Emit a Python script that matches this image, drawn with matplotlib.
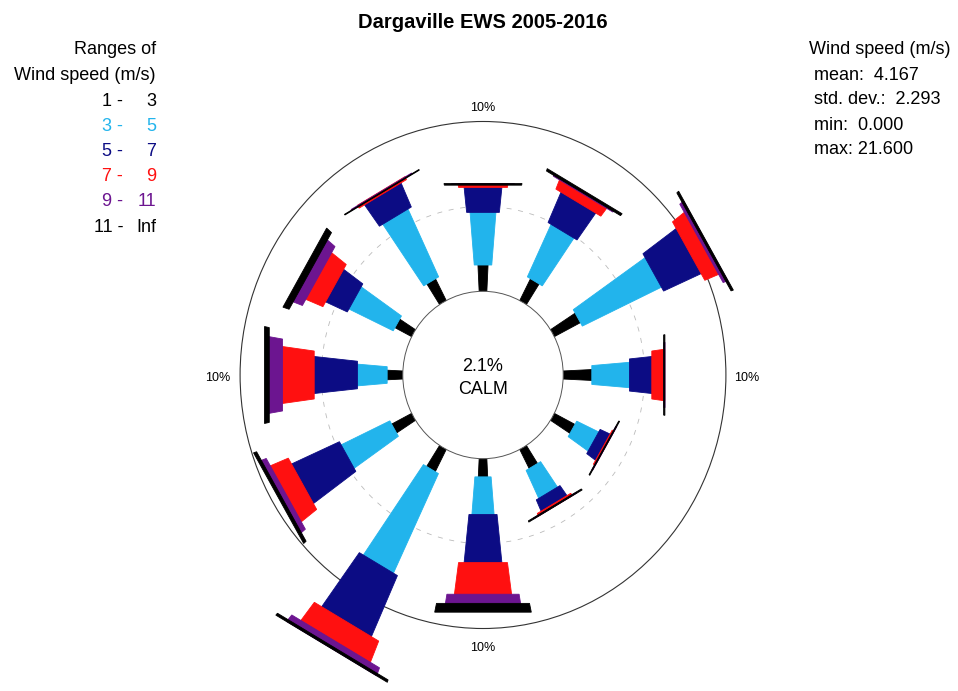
import numpy as np
import matplotlib
matplotlib.use('Agg')
import matplotlib.pyplot as plt
from matplotlib.patches import Polygon, Circle

plt.rcParams['font.family'] = ['Liberation Sans', 'DejaVu Sans']

# wind directions (compass degrees) and frequency (%) of each speed range
directions = [0, 30, 60, 90, 120, 150, 180, 210, 240, 270, 300, 330]
range_labels = [('1 -', '3'), ('3 -', '5'), ('5 -', '7'), ('7 -', '9'), ('9 -', '11'), ('11 -', 'Inf')]
freq_1_3 = [1.57, 1.46, 1.82, 1.78, 1.44, 1.28, 1.09, 1.49, 1.40, 0.98, 1.17, 1.46]
freq_3_5 = [3.13, 3.44, 5.40, 2.34, 1.51, 1.84, 2.24, 6.51, 3.33, 1.85, 3.03, 4.44]
freq_5_7 = [1.52, 2.00, 2.58, 1.42, 0.70, 0.76, 2.89, 4.00, 3.27, 2.71, 1.50, 1.60]
freq_7_9 = [0.23, 0.65, 1.00, 0.80, 0.13, 0.17, 1.95, 1.45, 1.27, 2.03, 1.20, 0.20]
freq_9_11 = [0.05, 0.15, 0.30, 0.08, 0.06, 0.05, 0.65, 0.50, 0.43, 0.93, 0.70, 0.05]
freq_11_inf = [0.10, 0.15, 0.15, 0.08, 0.06, 0.08, 0.53, 0.15, 0.20, 0.30, 0.40, 0.05]
calm = 2.1
stats = [('mean:', '4.167'), ('std. dev.:', '2.293'), ('min:', '0.000'), ('max:', '21.600')]

colors = ['black', '#22b4ec', '#0c0c84', '#ff1010', '#6c1590', 'black']
widths = [5.5, 9.5, 12.0, 15.5, 19.5, 24.0]   # angular width of each range (deg)

W, H = 958, 691
cx, cy = 483, 375          # rose centre in pixels
sx, sy = 16.27, 16.98      # pixels per percent (picture is slightly stretched)
calm_r = 4.93              # radius of the calm circle, in percent units

fig = plt.figure(figsize=(W / 100, H / 100), dpi=100)
ax = fig.add_axes([0, 0, 1, 1])
ax.set_xlim(-cx / sx, (W - cx) / sx)
ax.set_ylim(-(H - cy) / sy, cy / sy)
ax.axis('off')

freqs = np.array([freq_1_3, freq_3_5, freq_5_7, freq_7_9, freq_9_11, freq_11_inf])
cum = np.vstack([np.zeros(len(directions)), np.cumsum(freqs, axis=0)])

# wedges
for i, d in enumerate(directions):
    for j in range(len(freqs)):
        r_in = calm_r + cum[j, i]
        r_out = calm_r + cum[j + 1, i]
        a1 = np.radians(d - widths[j] / 2)
        a2 = np.radians(d + widths[j] / 2)
        pts = [(r_in * np.sin(a1), r_in * np.cos(a1)),
               (r_out * np.sin(a1), r_out * np.cos(a1)),
               (r_out * np.sin(a2), r_out * np.cos(a2)),
               (r_in * np.sin(a2), r_in * np.cos(a2))]
        ax.add_patch(Polygon(pts, closed=True, facecolor=colors[j],
                             edgecolor=colors[j], linewidth=0.6, zorder=3))

# reference circles
ax.add_patch(Circle((0, 0), calm_r + 10, fill=False, edgecolor='#333333', linewidth=0.8, zorder=1))
ax.add_patch(Circle((0, 0), calm_r + 5, fill=False, edgecolor='#bbbbbb', linewidth=0.6,
                    linestyle=(0, (6, 8)), zorder=1))
ax.add_patch(Circle((0, 0), calm_r, facecolor='white', edgecolor='#555555', linewidth=0.7, zorder=4))

R = calm_r + 10
lab = dict(fontsize=9, ha='center', va='center', textcoords='offset points')
ax.annotate('10%', (0, R), xytext=(0, 10), **lab)
ax.annotate('10%', (R, 0), xytext=(15, -2), **lab)
ax.annotate('10%', (0, -R), xytext=(0, -14), **lab)
ax.annotate('10%', (-R, 0), xytext=(-16, -2), **lab)


def ftext(x, y, s, **kw):
    fig.text(x / W, 1 - y / H, s, va='center', **kw)


ftext(cx, 367, f'{calm}%', fontsize=13, ha='center', zorder=5)
ftext(cx, 390, 'CALM', fontsize=13, ha='center', zorder=5)

ftext(cx, 22, 'Dargaville EWS 2005-2016', fontsize=14.5, fontweight='bold', ha='center')

# legend of speed ranges
ftext(156, 50, 'Ranges of', fontsize=13, ha='right')
ftext(156, 75, 'Wind speed (m/s)', fontsize=13, ha='right')
for k, (lo, hi) in enumerate(range_labels):
    y = 101 + k * 25.2
    ftext(123, y, lo, fontsize=13, ha='right', color=colors[k])
    ftext(156, y, hi, fontsize=13, ha='right', color=colors[k])

# statistics
ftext(809, 50, 'Wind speed (m/s)', fontsize=13, ha='left')
for k, (name, val) in enumerate(stats):
    sep = ' ' if name == 'max:' else '  '
    ftext(814, 75 + k * 25, name + sep + val, fontsize=13, ha='left')

plt.savefig('out.png', dpi=100)
